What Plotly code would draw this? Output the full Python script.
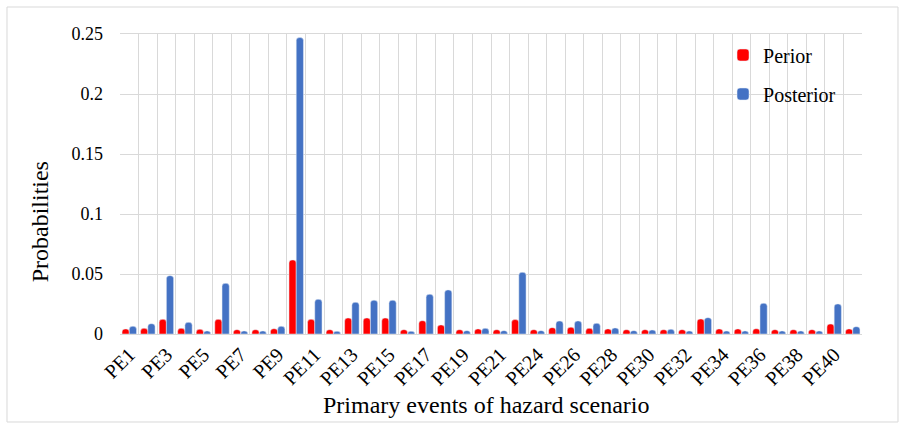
import plotly.graph_objects as go

categories = [f"PE{i}" for i in range(1, 23)] + [f"PE{i}" for i in range(24, 42)]
perior = [0.0042, 0.0047, 0.0122, 0.0047, 0.0039, 0.0122, 0.0036, 0.0036, 0.0044, 0.0617,
          0.0122, 0.0036, 0.0133, 0.0133, 0.0133, 0.0036, 0.0111, 0.0075, 0.0036, 0.0042,
          0.0036, 0.0120, 0.0036, 0.0053, 0.0056, 0.0047, 0.0042, 0.0036, 0.0036, 0.0036,
          0.0036, 0.0125, 0.0042, 0.0042, 0.0044, 0.0036, 0.0036, 0.0036, 0.0083, 0.0042]
posterior = [0.0064, 0.0086, 0.0486, 0.0097, 0.0025, 0.0422, 0.0025, 0.0025, 0.0064, 0.2470,
             0.0289, 0.0022, 0.0264, 0.0281, 0.0281, 0.0022, 0.0331, 0.0367, 0.0028, 0.0047,
             0.0028, 0.0514, 0.0028, 0.0108, 0.0108, 0.0089, 0.0050, 0.0028, 0.0033, 0.0039,
             0.0025, 0.0136, 0.0025, 0.0025, 0.0256, 0.0025, 0.0025, 0.0025, 0.0250, 0.0061]
tick_labels = [c if i % 2 == 0 else "" for i, c in enumerate(categories)]
y_ticks = [0, 0.05, 0.1, 0.15, 0.2, 0.25]
y_tick_text = ["0", "0.05", "0.1", "0.15", "0.2", "0.25"]

FONT = "Liberation Serif, Times New Roman, serif"

fig = go.Figure()
fig.add_trace(go.Bar(x=categories, y=perior, name="Perior", marker_color="#FF0000",
                     legendgroup="a"))
fig.add_trace(go.Bar(x=categories, y=posterior, name="Posterior", marker_color="#4472C4",
                     legendgroup="b"))

fig.update_layout(
    width=901, height=427,
    margin=dict(l=120, r=39, t=34, b=93),
    paper_bgcolor="white", plot_bgcolor="white",
    barmode="group", bargap=0.22, bargroupgap=0.0, barcornerradius=3,
    font=dict(family=FONT, color="black", size=18),
    legend=dict(x=0.8127, y=0.995, xanchor="left", yanchor="top",
                font=dict(family=FONT, size=20, color="black"), tracegroupgap=10,
                bgcolor="rgba(0,0,0,0)", itemwidth=30),
    xaxis=dict(type="category", tickmode="array", tickvals=categories, ticktext=tick_labels,
               tickson="boundaries", showgrid=True, gridcolor="#D9D9D9", gridwidth=1,
               ticks="", tickangle=-45, tickfont=dict(family=FONT, size=20, color="black"),
               showline=True, linecolor="#D9D9D9", mirror=True),
    yaxis=dict(range=[0, 0.25], tickmode="array", tickvals=y_ticks, ticktext=y_tick_text,
               showgrid=True, gridcolor="#D9D9D9", gridwidth=1, zeroline=False,
               ticks="", ticklabelstandoff=16, tickfont=dict(family=FONT, size=18, color="black"),
               showline=False),
    showlegend=True,
)

fig.add_annotation(text="Probabilities", xref="paper", yref="paper", x=-0.108, y=0.375,
                   textangle=-90, showarrow=False, font=dict(family=FONT, size=24, color="black"),
                   xanchor="center", yanchor="middle")
fig.add_annotation(text="Primary events of hazard scenario", xref="paper", yref="paper",
                   x=0.494, y=-0.237, showarrow=False, font=dict(family=FONT, size=24, color="black"),
                   xanchor="center", yanchor="middle")

fig.add_shape(type="rect", xref="paper", yref="paper", x0=-0.1523, x1=1.0485,
              y0=-0.2933, y1=1.09, line=dict(color="#D9D9D9", width=1), layer="below")

fig.write_html("out.html")
